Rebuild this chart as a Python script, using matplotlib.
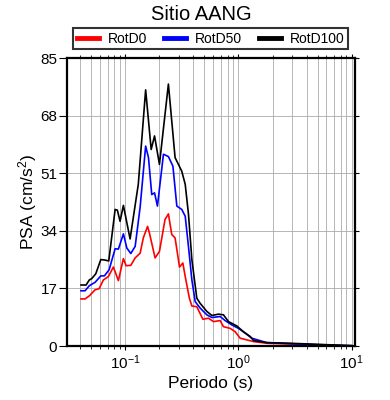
import numpy as np
import matplotlib
matplotlib.use("Agg")
import matplotlib.pyplot as plt
from matplotlib.ticker import LogLocator, FixedLocator, NullFormatter

plt.rcParams["font.family"] = ["Liberation Sans", "DejaVu Sans"]
plt.rcParams["mathtext.fontset"] = "custom"
plt.rcParams["mathtext.rm"] = "Liberation Sans"
plt.rcParams["mathtext.it"] = "Liberation Sans:italic"

# periodos (s) y PSA (cm/s^2)
t_d0 = [0.0405, 0.044, 0.048, 0.054, 0.0585, 0.0639, 0.0707, 0.0783, 0.0867, 0.096,
        0.1014, 0.1116, 0.122, 0.135, 0.144, 0.157, 0.163, 0.183, 0.200, 0.224,
        0.240, 0.257, 0.275, 0.301, 0.322, 0.338, 0.368, 0.387, 0.428, 0.484,
        0.543, 0.601, 0.689, 0.736, 0.845, 0.935, 1.035, 1.36, 1.78, 3.52, 6.93, 10.0]
psa_d0 = [13.9, 13.9, 14.8, 16.6, 16.9, 19.5, 20.5, 23.3, 19.3, 25.8,
          23.7, 23.8, 26.0, 27.4, 31.9, 35.3, 33.4, 26.0, 27.9, 37.3,
          39.0, 32.9, 31.9, 23.3, 24.5, 20.5, 14.1, 11.8, 11.6, 7.9,
          8.2, 7.2, 7.5, 5.7, 5.2, 4.2, 2.3, 1.3, 0.8, 0.5, 0.1, 0.0]

t_d50 = [0.0405, 0.044, 0.048, 0.054, 0.0606, 0.0652, 0.0718, 0.0811, 0.0867, 0.096,
         0.103, 0.1116, 0.122, 0.135, 0.151, 0.160, 0.171, 0.181, 0.192, 0.217,
         0.240, 0.263, 0.285, 0.315, 0.338, 0.361, 0.387, 0.414, 0.458, 0.525,
         0.582, 0.689, 0.762, 0.875, 1.0, 1.146, 1.31, 1.78, 2.87, 4.94, 10.0]
psa_d50 = [16.3, 16.3, 17.8, 18.8, 20.7, 20.7, 22.5, 28.7, 28.6, 33.1,
           28.9, 27.3, 29.4, 41.0, 59.0, 55.6, 44.7, 45.2, 41.3, 56.6,
           55.9, 53.1, 41.3, 40.3, 38.3, 29.4, 19.5, 13.1, 11.2, 9.2,
           8.4, 8.7, 7.5, 6.2, 5.2, 3.8, 2.3, 1.0, 0.7, 0.4, 0.1]

t_d100 = [0.0405, 0.0449, 0.048, 0.0504, 0.0547, 0.0606, 0.0652, 0.0713, 0.0811, 0.0849,
          0.0897, 0.096, 0.110, 0.130, 0.151, 0.169, 0.181, 0.200, 0.240, 0.275,
          0.315, 0.338, 0.361, 0.387, 0.428, 0.458, 0.525, 0.582, 0.665, 0.736,
          0.816, 0.968, 1.107, 1.27, 1.36, 1.78, 2.87, 4.94, 10.0]
psa_d100 = [18.0, 18.0, 19.5, 19.9, 21.3, 25.5, 25.4, 25.1, 40.3, 40.1,
            36.8, 41.5, 31.6, 47.7, 75.6, 58.0, 62.0, 53.6, 77.3, 55.6,
            51.6, 47.7, 39.0, 25.5, 14.1, 12.6, 10.2, 9.0, 9.4, 9.2,
            7.2, 5.9, 4.2, 2.8, 1.6, 1.0, 0.8, 0.5, 0.1]

y_ticks = [0, 17, 34, 51, 68, 85]

fig = plt.figure(figsize=(3.9, 4.0), dpi=100)
ax = fig.add_axes([0.172, 0.135, 0.738, 0.72])

ax.plot(t_d0, psa_d0, color="red", lw=1.2, label="RotD0")
ax.plot(t_d50, psa_d50, color="blue", lw=1.2, label="RotD50")
ax.plot(t_d100, psa_d100, color="black", lw=1.2, label="RotD100")

ax.set_xscale("log")
ax.set_xlim(0.0305, 10.7)
ax.set_ylim(0, 85)
ax.yaxis.set_major_locator(FixedLocator(y_ticks))
ax.xaxis.set_major_locator(LogLocator(base=10))
ax.xaxis.set_minor_locator(LogLocator(base=10, subs=np.arange(2, 10)))
ax.xaxis.set_minor_formatter(NullFormatter())

ax.grid(True, which="both", axis="x", color="#ababab", lw=0.6)
ax.grid(True, which="major", axis="y", color="#ababab", lw=0.6)
ax.set_axisbelow(True)

for s in ax.spines.values():
    s.set_linewidth(1.6)
ax.tick_params(which="major", direction="out", length=3, width=0.8,
               top=True, right=True, labelsize=11, pad=2)
ax.tick_params(which="minor", direction="out", length=2, width=0.6,
               top=True, right=False)
ax.tick_params(axis="y", which="major", length=6, pad=1)
for t in ax.yaxis.get_major_ticks():
    t.tick2line.set_markersize(3)

ax.set_xlabel("Periodo (s)", fontsize=12.5, labelpad=3)
ax.set_ylabel("PSA (cm/s$^2$)", fontsize=12.5, labelpad=1)

leg = ax.legend(loc="lower left", bbox_to_anchor=(0.022, 1.03, 0.954, 0.075),
                mode="expand", ncol=3, fontsize=10, frameon=True, fancybox=False,
                handlelength=1.6, handletextpad=0.6, borderaxespad=0,
                borderpad=0.25, columnspacing=1.0)
leg.get_frame().set_edgecolor("black")
leg.get_frame().set_linewidth(1.5)
for h in leg.get_lines():
    h.set_linewidth(3.5)

fig.text(201 / 390, 1 - 14 / 400, "Sitio AANG", ha="center", va="center", fontsize=14.5)

fig.savefig("out.png", dpi=100)
